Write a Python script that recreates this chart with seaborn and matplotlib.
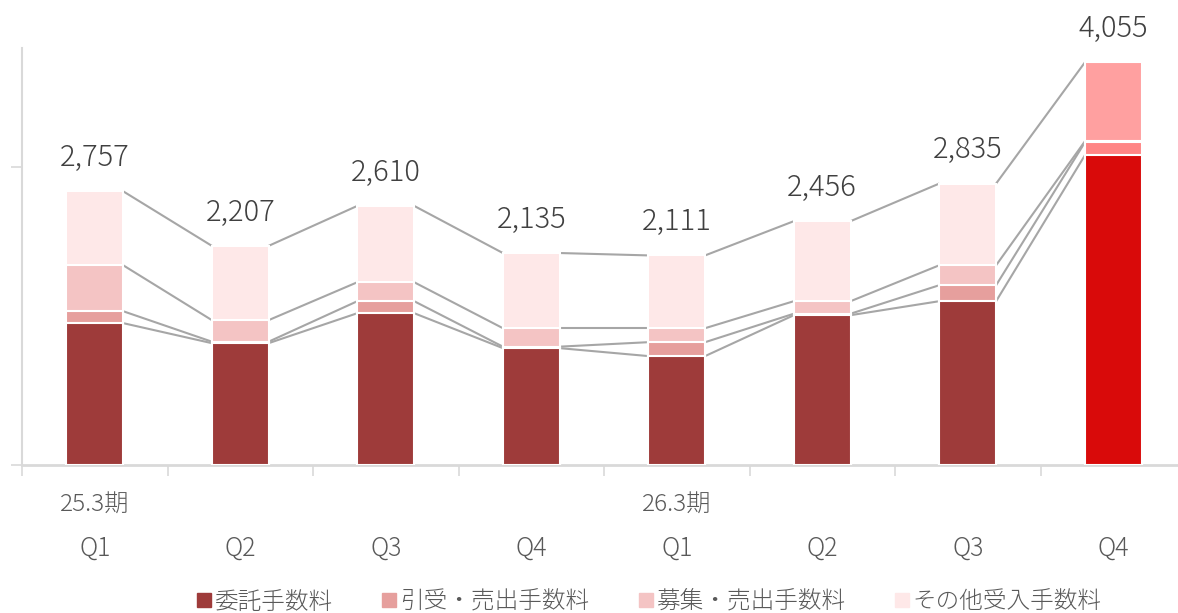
import pandas as pd
import numpy as np
import matplotlib
matplotlib.use("Agg")
import matplotlib.pyplot as plt
from matplotlib.lines import Line2D
import seaborn as sns

# data (units: 百万円)
keys = ["25Q1", "25Q2", "25Q3", "25Q4", "26Q1", "26Q2", "26Q3", "26Q4"]
quarters = ["Q1", "Q2", "Q3", "Q4", "Q1", "Q2", "Q3", "Q4"]
periods = {0: "25.3期", 4: "26.3期"}
itaku = [1429, 1227, 1529, 1177, 1097, 1509, 1650, 3119]
hikiuke = [120, 15, 121, 15, 140, 15, 161, 130]
boshu = [463, 217, 191, 186, 141, 126, 201, 11]
sonota = [745, 748, 769, 757, 733, 806, 823, 795]
totals = [2757, 2207, 2610, 2135, 2111, 2456, 2835, 4055]
series_names = ["委託手数料", "引受・売出手数料", "募集・売出手数料", "その他受入手数料"]

base_colors = ["#9E3B3A", "#E69F9D", "#F4C4C4", "#FEE8E8"]
hi_colors = ["#D90A0A", "#FF8585", "#FFB5B5", "#FFA0A0"]

sns.set_style("white")
plt.rcParams["font.family"] = ["Noto Sans CJK JP", "DejaVu Sans"]

df = pd.DataFrame({"key": keys, "itaku": itaku, "hikiuke": hikiuke,
                   "boshu": boshu, "sonota": sonota})
cols = ["itaku", "hikiuke", "boshu", "sonota"]
cum = df[cols].cumsum(axis=1)

fig = plt.figure(figsize=(11.78, 6.13), dpi=100)
ax = fig.add_axes([22 / 1178, 148 / 613, 1164 / 1178, 417 / 613])

bar_w = 0.39
# draw cumulative layers, tallest first, so each segment sits on the one below
for k in range(3, -1, -1):
    pal = {key: (hi_colors[k] if key == "26Q4" else base_colors[k]) for key in keys}
    sns.barplot(x=df["key"], y=cum[cols[k]], hue=df["key"], palette=pal,
                order=keys, legend=False, width=bar_w, edgecolor="white",
                linewidth=1.5, saturation=1, ax=ax, zorder=3)

# connector lines between segment tops
for k in range(4):
    vals = cum[cols[k]].values
    for i in range(len(keys) - 1):
        ax.plot([i + bar_w / 2, i + 1 - bar_w / 2], [vals[i], vals[i + 1]],
                color="#A6A6A6", lw=1.5, zorder=2, solid_capstyle="butt")

# total labels
for i, t in enumerate(totals):
    ax.text(i, t + 255, f"{t:,}", ha="center", va="baseline",
            fontsize=21, color="#404040", fontweight="light")

ax.set_xlim(-0.5, 7.5)
ax.set_ylim(0, 4200)
ax.set_yticks([0, 3000])
ax.set_yticklabels([])
ax.tick_params(axis="y", length=8, width=1.2, color="#D9D9D9", left=True)
ax.set_xticks(range(len(keys)))
ax.set_xticklabels([])
ax.tick_params(axis="x", which="major", length=0)
ax.set_xticks(np.arange(-0.5, 8, 1), minor=True)
ax.tick_params(axis="x", which="minor", length=8, width=1.2, color="#D9D9D9", bottom=True)
ax.set_xlabel("")
ax.set_ylabel("")

for s in ["top", "right"]:
    ax.spines[s].set_visible(False)
ax.spines["left"].set_color("#D9D9D9")
ax.spines["left"].set_linewidth(1.5)
ax.spines["bottom"].set_color("#D9D9D9")
ax.spines["bottom"].set_linewidth(2)

trans = ax.get_xaxis_transform()
for i, q in enumerate(quarters):
    ax.text(i, -(548 - 465) / 417, q, ha="center", va="center",
            fontsize=18, color="#595959", transform=trans, fontweight="light")
for i, p in periods.items():
    ax.text(i, -(505 - 465) / 417, p, ha="center", va="center",
            fontsize=17.5, color="#595959", transform=trans, fontweight="light")

handles = [Line2D([], [], marker="s", linestyle="none", markersize=10,
                  markerfacecolor=c, markeredgecolor=c) for c in base_colors]
fig.legend(handles, series_names, loc="center", bbox_to_anchor=(648 / 1178, 1 - 602 / 613),
           ncol=4, frameon=False, prop={"size": 17, "weight": "light"}, labelcolor="#595959",
           handletextpad=0.05, columnspacing=2.0, handlelength=0.8)

fig.savefig("out.png", dpi=100)
